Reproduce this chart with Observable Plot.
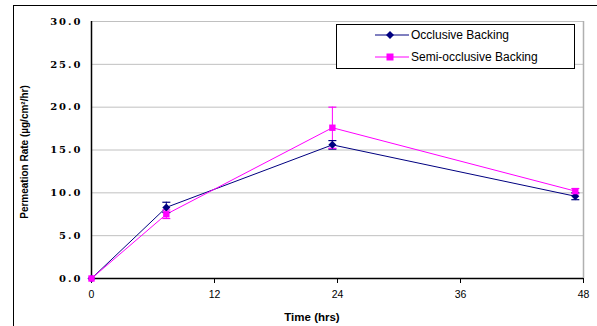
<!DOCTYPE html>
<html>
<head>
<meta charset="utf-8">
<script src="https://cdn.jsdelivr.net/npm/d3@7"></script>
<script src="https://cdn.jsdelivr.net/npm/@observablehq/plot@0.6"></script>
<style>
  body { margin: 0; background: #fff; }
  #wrap { position: relative; width: 597px; height: 326px; overflow: hidden; font-family: "Liberation Sans", Arial, sans-serif; }
  #border { position: absolute; left: 13px; top: 5px; width: 600px; height: 400px; border-top: 1px solid #000; border-left: 1px solid #000; }
  #chart { position: absolute; left: 0; top: 0; }
  #chart g[aria-label="y-axis tick label"] text { letter-spacing: 2px; }
  #legend { position: absolute; left: 336px; top: 24px; width: 237px; height: 43px; border: 1px solid #000; background: #fff; font-size: 12px; color: #000; }
  .item { position: absolute; left: 38px; height: 14px; display: flex; align-items: center; }
  .item span { margin-left: 2px; }
  #ytitle { position: absolute; left: 24px; top: 152px; transform: translate(-50%, -50%) rotate(-90deg); white-space: nowrap; font-weight: bold; font-size: 10px; }
  #xtitle { position: absolute; left: 312px; top: 317px; transform: translate(-50%, -50%); white-space: nowrap; font-weight: bold; font-size: 11.5px; }
</style>
</head>
<body>
<div id="wrap">
  <div id="border"></div>
  <div id="chart"></div>
  <div id="ytitle">Permeation Rate (µg/cm²/hr)</div>
  <div id="xtitle">Time (hrs)</div>
  <div id="legend">
    <div class="item" style="top:3px"><svg width="34" height="10"><line x1="0" y1="5" x2="34" y2="5" stroke="#000080" stroke-width="1"/><path d="M15,1 L19,5 L15,9 L11,5 Z" fill="#000080"/></svg><span>Occlusive Backing</span></div>
    <div class="item" style="top:25px"><svg width="34" height="10"><line x1="0" y1="5" x2="34" y2="5" stroke="#ff00ff" stroke-width="1"/><rect x="11.5" y="1.5" width="7" height="7" fill="#ff00ff"/></svg><span>Semi-occlusive Backing</span></div>
  </div>
</div>
<script>
const times = [0, 7.3, 23.5, 47.2];
const occlusive = [0, 8.3, 15.6, 9.6];
const occlusiveErr = [0, 0.6, 0.5, 0.4];
const semiOcclusive = [0, 7.5, 17.6, 10.2];
const semiOcclusiveErr = [0, 0.5, 2.4, 0.3];
const yTicks = [0, 5, 10, 15, 20, 25, 30];
const xTicks = [0, 12, 24, 36, 48];

const series = [
  {name: "Occlusive Backing", values: occlusive, errs: occlusiveErr, color: "#000080", symbol: "diamond2"},
  {name: "Semi-occlusive Backing", values: semiOcclusive, errs: semiOcclusiveErr, color: "#ff00ff", symbol: "square"}
];
const rows = series.flatMap(s => times.map((t, i) => ({
  series: s.name, t, v: s.values[i], e: s.errs[i], color: s.color, symbol: s.symbol
})));
const errRows = rows.filter(d => d.e > 0);
const capSymbol = { draw(ctx, size) { const r = 4; ctx.moveTo(-r, 0); ctx.lineTo(r, 0); } };

const chart = Plot.plot({
  width: 597,
  height: 326,
  marginLeft: 91,
  marginRight: 14,
  marginTop: 21,
  marginBottom: 48,
  x: { domain: [0, 48] },
  y: { domain: [0, 30] },
  style: { background: "transparent", overflow: "visible" },
  marks: [
    Plot.ruleY(yTicks.filter(d => d > 0), { stroke: "#c0c0c0", strokeWidth: 1 }),
    Plot.ruleX([48], { stroke: "#b0b0b0", strokeWidth: 1.5 }),
    Plot.axisY({ ticks: yTicks, tickFormat: d => d.toFixed(1), tickSize: 4, tickPadding: 5, label: null,
      fontFamily: "DejaVu Serif", fontSize: 10, fontWeight: "bold", fill: "#000", stroke: null }),
    Plot.axisX({ ticks: xTicks, tickSize: 5, tickPadding: 7, label: null, fontSize: 10.5,
      fontFamily: "Liberation Sans", fill: "#000" }),
    Plot.ruleX([0], { stroke: "#000", strokeWidth: 1.5 }),
    Plot.ruleY([0], { stroke: "#000", strokeWidth: 1.5 }),
    Plot.line(rows, { x: "t", y: "v", z: "series", stroke: "color", strokeWidth: 1 }),
    Plot.ruleX(errRows, { x: "t", y1: d => d.v - d.e, y2: d => d.v + d.e, stroke: "color", strokeWidth: 1 }),
    Plot.dot(errRows, { x: "t", y: d => d.v + d.e, symbol: capSymbol, stroke: "color", strokeWidth: 1.2 }),
    Plot.dot(errRows, { x: "t", y: d => d.v - d.e, symbol: capSymbol, stroke: "color", strokeWidth: 1.2 }),
    Plot.dot(rows, { x: "t", y: "v", symbol: "symbol", fill: "color", stroke: null, r: 3.6 })
  ]
});
document.getElementById("chart").appendChild(chart);
</script>
</body>
</html>
